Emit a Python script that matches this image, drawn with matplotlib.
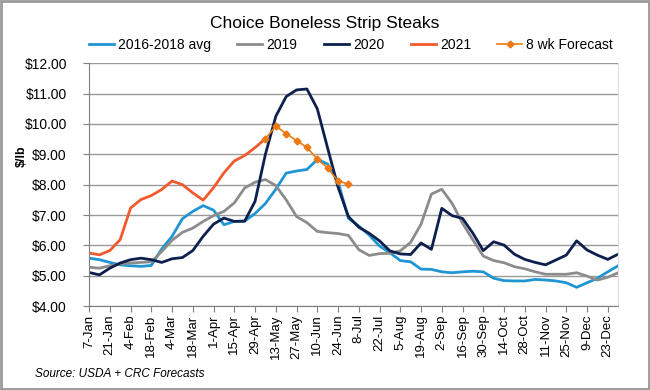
import numpy as np
import matplotlib
matplotlib.use("Agg")
from matplotlib import pyplot as plt
from matplotlib.patches import Rectangle

plt.rcParams['font.family'] = ['Liberation Sans', 'DejaVu Sans']

# weekly prices, $/lb (week 0 = 7-Jan)
avg_16_18 = [5.58, 5.53, 5.44, 5.36, 5.33, 5.31, 5.34, 5.88, 6.30, 6.88,
             7.12, 7.31, 7.16, 6.68, 6.79, 6.80, 7.05, 7.38, 7.85, 8.38,
             8.45, 8.50, 8.83, 8.68, 8.10, 6.89, 6.64, 6.34, 5.98, 5.76,
             5.50, 5.46, 5.22, 5.21, 5.13, 5.10, 5.13, 5.15, 5.13, 4.92,
             4.84, 4.83, 4.83, 4.88, 4.86, 4.83, 4.77, 4.62, 4.77, 4.92,
             5.13, 5.33]
y2019 = [5.28, 5.25, 5.33, 5.39, 5.42, 5.44, 5.46, 5.80, 6.17, 6.43,
         6.57, 6.79, 6.98, 7.12, 7.40, 7.89, 8.08, 8.17, 7.97, 7.50,
         6.95, 6.75, 6.46, 6.42, 6.39, 6.33, 5.86, 5.67, 5.73, 5.74,
         5.82, 6.10, 6.70, 7.69, 7.85, 7.38, 6.73, 6.18, 5.65, 5.50,
         5.43, 5.30, 5.23, 5.13, 5.05, 5.05, 5.05, 5.10, 4.99, 4.86,
         4.95, 5.10]
y2020 = [5.11, 5.03, 5.25, 5.42, 5.53, 5.58, 5.53, 5.44, 5.56, 5.60,
         5.83, 6.30, 6.70, 6.90, 6.79, 6.80, 7.45, 9.00, 10.25, 10.90,
         11.12, 11.15, 10.50, 9.20, 7.92, 6.95, 6.60, 6.40, 6.15, 5.82,
         5.72, 5.70, 6.08, 5.87, 7.22, 6.98, 6.89, 6.40, 5.83, 6.12,
         6.01, 5.71, 5.54, 5.44, 5.36, 5.52, 5.68, 6.15, 5.85, 5.68,
         5.54, 5.71]
y2021 = [5.75, 5.69, 5.83, 6.19, 7.23, 7.51, 7.64, 7.84, 8.12, 8.00,
         7.73, 7.49, 7.90, 8.39, 8.78, 8.96, 9.22, 9.51]
forecast = [9.51, 9.93, 9.68, 9.45, 9.23, 8.84, 8.55, 8.12, 8.02]

week_labels = ['7-Jan', '21-Jan', '4-Feb', '18-Feb', '4-Mar', '18-Mar', '1-Apr',
               '15-Apr', '29-Apr', '13-May', '27-May', '10-Jun', '24-Jun', '8-Jul',
               '22-Jul', '5-Aug', '19-Aug', '2-Sep', '16-Sep', '30-Sep', '14-Oct',
               '28-Oct', '11-Nov', '25-Nov', '9-Dec', '23-Dec']

weeks = np.arange(len(avg_16_18))
fc_start = len(y2021) - 1

fig = plt.figure(figsize=(6.5, 3.9), dpi=100)
ax = fig.add_axes([0.137, 0.215, 0.814, 0.623])

ax.plot(weeks, avg_16_18, color='#1f96d3', lw=2, label='2016-2018 avg')
ax.plot(weeks, y2019, color='#8c8c8c', lw=2, label='2019')
ax.plot(weeks, y2020, color='#0c1f4d', lw=2, label='2020')
ax.plot(weeks[:len(y2021)], y2021, color='#f25a2e', lw=2, label='2021')
ax.plot(weeks[fc_start:fc_start + len(forecast)], forecast, color='#ec7a14',
        lw=1.2, marker='D', markersize=3.5, label='8 wk Forecast')

ax.set_xlim(0, 51)
ax.set_ylim(4, 12)
ax.set_yticks(np.arange(4, 13, 1))
ax.set_yticklabels(['${:.2f}'.format(v) for v in np.arange(4, 13, 1)])
ax.set_xticks(np.arange(0, 2 * len(week_labels), 2))
ax.set_xticklabels(week_labels, rotation=90)

ax.grid(axis='y', color='#9a9a9a', lw=1)
ax.set_axisbelow(True)
ax.tick_params(axis='y', length=4, pad=12, labelsize=10, color='#808080')
ax.tick_params(axis='x', length=4, pad=2, labelsize=9.5, color='#808080')
ax.spines['top'].set_visible(False)
ax.spines['right'].set_color('#e0e0e0')
ax.spines['left'].set_color('#808080')
ax.spines['bottom'].set_color('#808080')

fig.text(0.5, 0.94, 'Choice Boneless Strip Steaks', ha='center', va='center',
         fontsize=12.5)
fig.text(0.034, 0.6, '$/lb', rotation=90, ha='center', va='center',
         fontsize=9, fontweight='bold')
fig.text(0.054, 0.04, 'Source: USDA + CRC Forecasts', fontstyle='italic',
         fontsize=8.5, va='center')

fig.legend(loc='center', bbox_to_anchor=(0.54, 0.885), ncol=5, frameon=False,
           fontsize=10, handlelength=1.8, columnspacing=1.9, handletextpad=0.3,
           borderaxespad=0)

fig.patches.append(Rectangle((0.002, 0.003), 0.996, 0.994, transform=fig.transFigure,
                             fill=False, edgecolor='#9a9a9a', lw=2))

fig.savefig('out.png', dpi=100)
